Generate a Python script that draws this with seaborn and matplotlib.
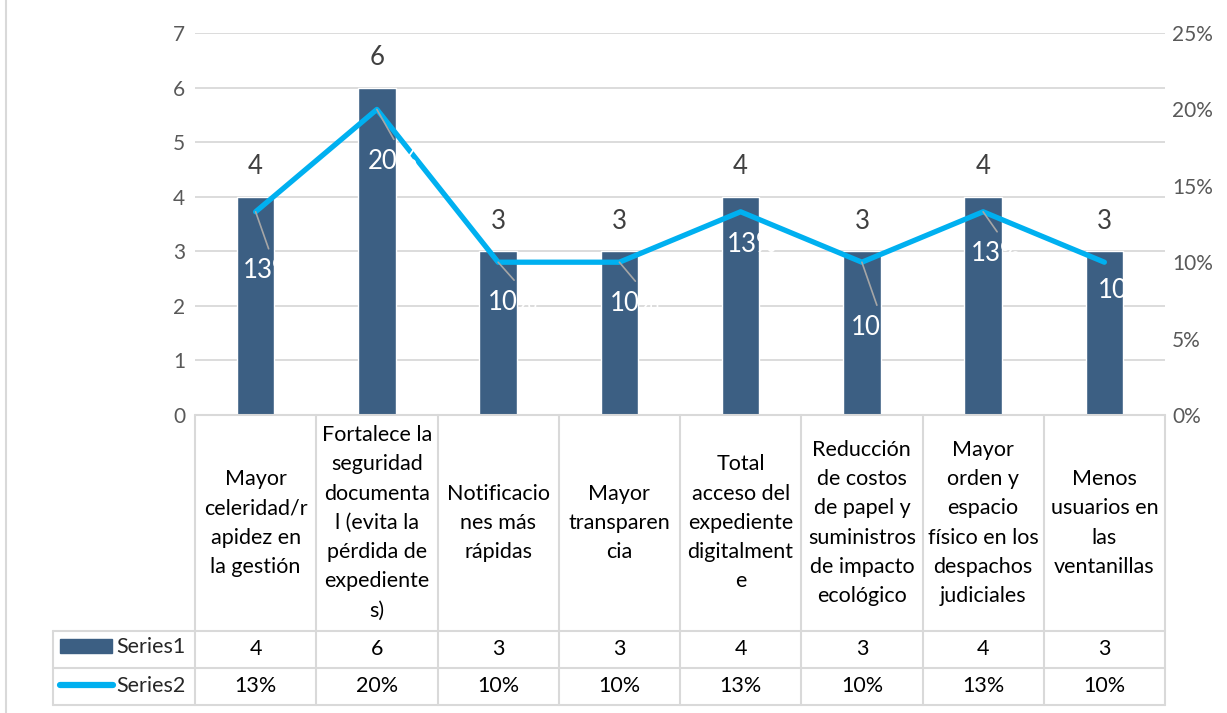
import numpy as np
import pandas as pd
import matplotlib
matplotlib.use("Agg")
import matplotlib.pyplot as plt
from matplotlib.patches import Rectangle
from matplotlib.lines import Line2D
import seaborn as sns

# Chart data
categories = [
    "Mayor\nceleridad/r\napidez en\nla gestión",
    "Fortalece la\nseguridad\ndocumenta\nl (evita la\npérdida de\nexpediente\ns)",
    "Notificacio\nnes más\nrápidas",
    "Mayor\ntransparen\ncia",
    "Total\nacceso del\nexpediente\ndigitalment\ne",
    "Reducción\nde costos\nde papel y\nsuministros\nde impacto\necológico",
    "Mayor\norden y\nespacio\nfísico en los\ndespachos\njudiciales",
    "Menos\nusuarios en\nlas\nventanillas",
]
series1 = [4, 6, 3, 3, 4, 3, 4, 3]
series2 = [0.133, 0.20, 0.10, 0.10, 0.133, 0.10, 0.133, 0.10]
series_names = ["Series1", "Series2"]

bar_color = "#3C5F83"
line_color = "#00B0F0"
text_gray = "#595959"
grid_gray = "#D9D9D9"

sns.set_theme(style="white")
plt.rcParams["font.family"] = ["Lato", "DejaVu Sans"]

df = pd.DataFrame({"pos": np.arange(len(categories)), "s1": series1, "s2": series2})

fig = plt.figure(figsize=(12.27, 7.13), dpi=100)
ax = fig.add_axes([195 / 1227, 1 - 415 / 713, 970 / 1227, 382 / 713])

sns.barplot(data=df, x="pos", y="s1", color=bar_color, width=0.31,
            saturation=1, ax=ax, zorder=2)
ax.set_xlim(-0.5, len(categories) - 0.5)
ax.set_ylim(0, 7)
ax.set_yticks(range(0, 8))
ax.yaxis.grid(True, color=grid_gray, linewidth=1.3, zorder=0)
ax.set_axisbelow(True)
ax.set_xticks([])
ax.set_xlabel("")
ax.set_ylabel("")
for s in ax.spines.values():
    s.set_visible(False)
ax.tick_params(axis="y", length=0, labelsize=15, labelcolor=text_gray, pad=7)

# bar value labels
for i, v in enumerate(series1):
    ax.annotate(str(v), (i, v), xytext=(0, 30), textcoords="offset pixels",
                ha="center", va="center", fontsize=18.5, color="#404040")

ax2 = ax.twinx()
sns.lineplot(data=df, x="pos", y="s2", color=line_color, linewidth=3.8,
             ax=ax2, zorder=3, solid_capstyle="round")
ax2.set_ylim(0, 0.25)
ax2.set_yticks(np.arange(0, 0.26, 0.05))
ax2.set_yticklabels([f"{int(round(t * 100))}%" for t in np.arange(0, 0.26, 0.05)])
ax2.set_ylabel("")
ax2.set_xlabel("")
for s in ax2.spines.values():
    s.set_visible(False)
ax2.tick_params(axis="y", length=0, labelsize=15, labelcolor=text_gray, pad=5)
ax2.set_xticks([])

# line value labels (white; parts outside bars vanish like in the original)
offsets = [(-13, -59), (-9, -52), (-10, -40), (-10, -41), (-14, -33), (-11, -65), (-12, -42), (-7, -28)]
leader = [True, True, True, True, False, True, True, False]
for i, v in enumerate(series2):
    dx, dy = offsets[i]
    ax2.annotate(f"{v:.0%}", (i, v), xytext=(dx, dy), textcoords="offset pixels",
                 ha="left", va="center", fontsize=18.5, color="white", zorder=4)
    if leader[i]:
        ax2.annotate("", (i, v), xytext=(dx + 26, dy + 22), textcoords="offset pixels",
                     arrowprops=dict(arrowstyle="-", color="#A6A6A6", lw=1.2,
                                     shrinkA=0, shrinkB=0), zorder=4)

# data table below the plot
trans = ax.get_xaxis_transform()
rows_y = [0, -0.565, -0.662, -0.759]
n = len(categories)
tbl_kw = dict(color=grid_gray, linewidth=1.5, clip_on=False)
left_x = -0.5 - (195 - 53) / (970 / n)
ax.plot([-0.5, n - 0.5], [0, 0], transform=trans, **tbl_kw)
for y in rows_y[1:]:
    ax.plot([left_x, n - 0.5], [y, y], transform=trans, **tbl_kw)
for k in range(n + 1):
    ax.plot([k - 0.5, k - 0.5], [0, rows_y[-1]], transform=trans, **tbl_kw)
ax.plot([left_x, left_x], [rows_y[1], rows_y[-1]], transform=trans, **tbl_kw)

for i, cat in enumerate(categories):
    ax.text(i, (rows_y[0] + rows_y[1]) / 2, cat, transform=trans, ha="center",
            va="center", fontsize=15.5, color="black", linespacing=1.58)
    ax.text(i, (rows_y[1] + rows_y[2]) / 2, str(series1[i]), transform=trans,
            ha="center", va="center", fontsize=15.5, color="black")
    ax.text(i, (rows_y[2] + rows_y[3]) / 2, f"{series2[i]:.0%}", transform=trans,
            ha="center", va="center", fontsize=15.5, color="black")

# legend keys in the table
fig.patches.append(Rectangle((60 / 1227, 1 - 653 / 713), 52 / 1227, 14 / 713,
                             transform=fig.transFigure, color=bar_color))
fig.lines.append(Line2D([60 / 1227, 113 / 1227], [1 - 685 / 713] * 2, transform=fig.transFigure,
                        color=line_color, linewidth=4.5, solid_capstyle="round"))
fig.text(116 / 1227, 1 - 647 / 713, series_names[0], ha="left", va="center", fontsize=15.5)
fig.text(116 / 1227, 1 - 686 / 713, series_names[1], ha="left", va="center", fontsize=15.5)

# outer chart border
fig.patches.append(Rectangle((6 / 1227, -0.01), 1.2, 1.2, transform=fig.transFigure,
                             fill=False, edgecolor=grid_gray, linewidth=1.5))

fig.savefig("out.png", dpi=100)
